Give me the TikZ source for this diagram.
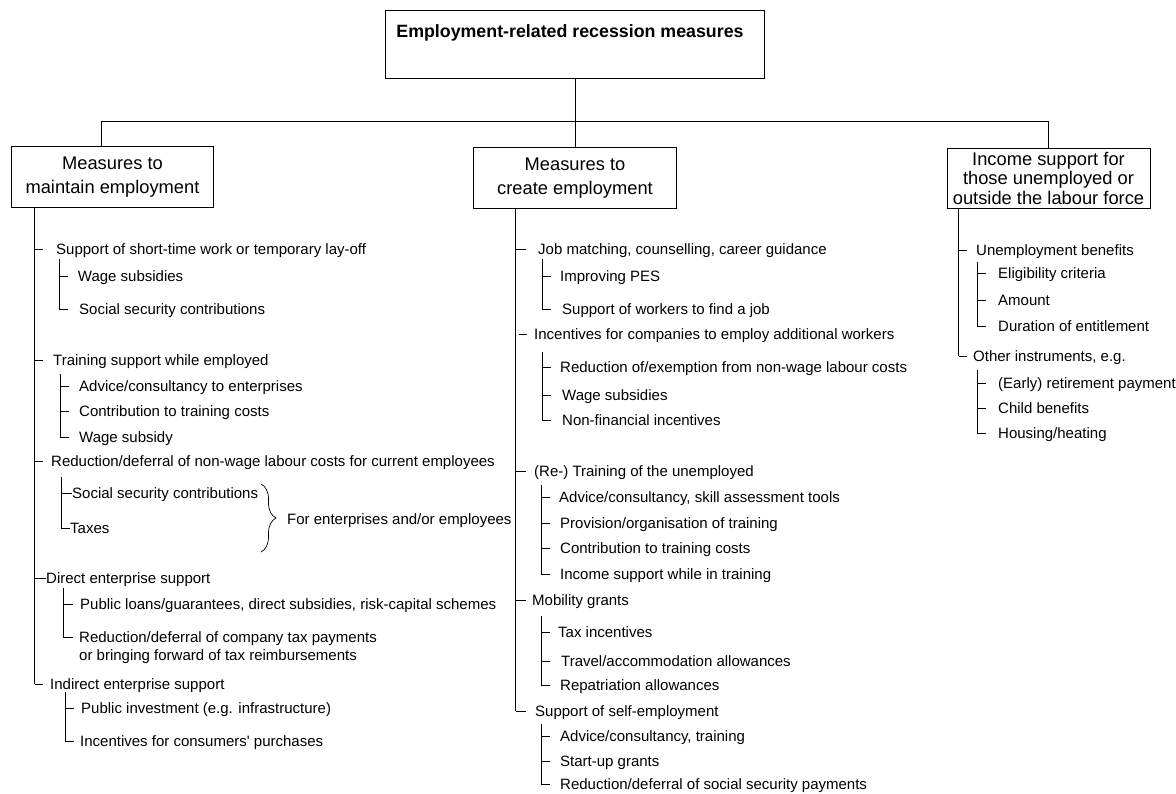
\documentclass[tikz,border=0pt]{standalone}
\usepackage{fontspec}
\setmainfont{Liberation Sans}
\usetikzlibrary{decorations.pathreplacing,calc}
\begin{document}
\begin{tikzpicture}[x=1pt,y=-1pt,
  ln/.style={line width=0.8pt, draw=black},
  box/.style={draw=black, line width=0.8pt, inner sep=0pt, align=center},
  bigtxt/.style={font=\fontsize{18.3}{24}\selectfont},
  itm/.style={anchor=west, inner sep=0pt, text height=10.5pt, text depth=0pt, font=\fontsize{15}{18}\selectfont},
]
\useasboundingbox (0,0) rectangle (1176,793);

% ---------- top ----------
\node[box, minimum width=379pt, minimum height=67.6pt] (top) at (575,44.5) {};
\node[font=\bfseries\fontsize{17.8}{20}\selectfont, inner sep=0pt] (toptxt) at (570,33) {Employment-related recession measures};

\node[box, bigtxt, minimum width=202pt, minimum height=61pt] (b1) at (112.5,177.2) {Measures to\\maintain employment};
\node[box, bigtxt, minimum width=203pt, minimum height=60.3pt] (b2) at (575,177.9) {Measures to\\create employment};
\node[box, font=\fontsize{18.3}{19.5}\selectfont, minimum width=203pt, minimum height=60pt] (b3) at (1048.5,178) {Income support for\\those unemployed or\\outside the labour force};

\coordinate (hl) at (101.4,121.7);
\draw[ln] (top.south) -- (b2.north);
\draw[ln] (hl |- b1.north) -- (hl) -| (b3.north);

% ---------- left column ----------
\node[itm] (l1) at (56,249) {Support of short-time work or temporary lay-off};
\node[itm] (l11) at (77.7,276) {Wage subsidies};
\node[itm] (l12) at (79,309) {Social security contributions};
\node[itm] (l2) at (53,360) {Training support while employed};
\node[itm] (l21) at (79,386) {Advice/consultancy to enterprises};
\node[itm] (l22) at (79,411) {Contribution to training costs};
\node[itm] (l23) at (79,437) {Wage subsidy};
\node[itm] (l3) at (51,461) {Reduction/deferral of non-wage labour costs for current employees};
\node[itm] (l31) at (72,493) {Social security contributions};
\node[itm] (l32) at (70,528) {Taxes};
\node[itm] (l3n) at (287,519) {For enterprises and/or employees};
\node[itm] (l4) at (46,578) {Direct enterprise support};
\node[itm] (l41) at (80,604) {Public loans/guarantees, direct subsidies, risk-capital schemes};
\node[itm] (l42) at (79,637) {Reduction/deferral of company tax payments};
\node[itm] (l42b) at (79,655) {or bringing forward of tax reimbursements};
\node[itm] (l5) at (50,684) {Indirect enterprise support};
\node[itm] (l51) at (81,708) {Public investment (e.g. infrastructure)};
\node[itm] (l52) at (80,741) {Incentives for consumers\textquotesingle\ purchases};

\coordinate (L) at (34.7,0);
\draw[ln] (L |- b1.south) -- (L |- l5);
\foreach \n in {l1,l2,l3,l5} \draw[ln] (L |- \n) -- ++(8.5,0);
\draw[ln] (L |- l4) -- (l4.west);

\coordinate (s1) at (59.3,259);
\draw[ln] (s1) -- (s1 |- l12);
\foreach \n in {l11,l12} \draw[ln] (s1 |- \n) -- ++(9,0);
\coordinate (s2) at (60,374);
\draw[ln] (s2) -- (s2 |- l23);
\foreach \n in {l21,l22,l23} \draw[ln] (s2 |- \n) -- ++(8.5,0);
\coordinate (s3) at (61,477);
\draw[ln] (s3) -- (s3 |- l32);
\foreach \n in {l31,l32} \draw[ln] (s3 |- \n) -- (\n.west);
\coordinate (s4) at (63,588);
\draw[ln] (s4) -- (s4 |- l42);
\foreach \n in {l41,l42} \draw[ln] (s4 |- \n) -- ++(10,0);
\coordinate (s5) at (65,692);
\draw[ln] (s5) -- (s5 |- l52);
\foreach \n in {l51,l52} \draw[ln] (s5 |- \n) -- ++(9,0);

\coordinate (brt) at (261,484);
\coordinate (brb) at (261,552);
\draw[ln, line width=0.7pt, decorate, decoration={brace, amplitude=15pt}] (brt) -- (brb);

% ---------- middle column ----------
\node[itm] (m1) at (538,249) {Job matching, counselling, career guidance};
\node[itm] (m11) at (560,276) {Improving PES};
\node[itm] (m12) at (562,309) {Support of workers to find a job};
\node[itm] (m2) at (534,334) {Incentives for companies to employ additional workers};
\node[itm] (m21) at (560,367) {Reduction of/exemption from non-wage labour costs};
\node[itm] (m22) at (562,395) {Wage subsidies};
\node[itm] (m23) at (562,420) {Non-financial incentives};
\node[itm] (m3) at (534,471) {(Re-) Training of the unemployed};
\node[itm] (m31) at (559,497) {Advice/consultancy, skill assessment tools};
\node[itm] (m32) at (560,523) {Provision/organisation of training};
\node[itm] (m33) at (560,548) {Contribution to training costs};
\node[itm] (m34) at (560,574) {Income support while in training};
\node[itm] (m4) at (532,600) {Mobility grants};
\node[itm] (m41) at (558,632) {Tax incentives};
\node[itm] (m42) at (561,661) {Travel/accommodation allowances};
\node[itm] (m43) at (560,685.5) {Repatriation allowances};
\node[itm] (m5) at (535,711) {Support of self-employment};
\node[itm] (m51) at (560,736) {Advice/consultancy, training};
\node[itm] (m52) at (560,761) {Start-up grants};
\node[itm] (m53) at (560,784.5) {Reduction/deferral of social security payments};

\coordinate (M) at (515.5,0);
\draw[ln] (M |- b2.south) -- (M |- m5);
\foreach \n in {m1,m3,m4,m5} \draw[ln] (M |- \n) -- ++(10,0);
\draw[ln] ($(M |- m2)+(3,0)$) -- ++(8.5,0);

\coordinate (ms1) at (542,259);
\draw[ln] (ms1) -- (ms1 |- m12);
\foreach \n in {m11,m12} \draw[ln] (ms1 |- \n) -- ++(8.5,0);
\coordinate (ms2) at (542,352);
\draw[ln] (ms2) -- (ms2 |- m23);
\foreach \n in {m21,m22,m23} \draw[ln] (ms2 |- \n) -- ++(8.5,0);
\coordinate (ms3) at (541,485);
\draw[ln] (ms3) -- (ms3 |- m34);
\foreach \n in {m31,m32,m33,m34} \draw[ln] (ms3 |- \n) -- ++(9,0);
\coordinate (ms4) at (541,616);
\draw[ln] (ms4) -- (ms4 |- m43);
\foreach \n in {m41,m42,m43} \draw[ln] (ms4 |- \n) -- ++(9,0);
\coordinate (ms5) at (541,724);
\draw[ln] (ms5) -- (ms5 |- m53);
\foreach \n in {m51,m52,m53} \draw[ln] (ms5 |- \n) -- ++(9,0);

% ---------- right column ----------
\node[itm] (r1) at (976,250) {Unemployment benefits};
\node[itm] (r11) at (998,273) {Eligibility criteria};
\node[itm] (r12) at (998,300) {Amount};
\node[itm] (r13) at (998,326) {Duration of entitlement};
\node[itm] (r2) at (973,356) {Other instruments, e.g.};
\node[itm] (r21) at (998,383) {(Early) retirement payment};
\node[itm] (r22) at (998,408) {Child benefits};
\node[itm] (r23) at (998,433) {Housing/heating};

\coordinate (R) at (958.5,0);
\draw[ln] (R |- b3.south) -- (R |- r2);
\foreach \n in {r1,r2} \draw[ln] (R |- \n) -- ++(8.5,0);
\coordinate (rs1) at (977,262);
\draw[ln] (rs1) -- (rs1 |- r13);
\foreach \n in {r11,r12,r13} \draw[ln] (rs1 |- \n) -- ++(8.5,0);
\coordinate (rs2) at (977,370);
\draw[ln] (rs2) -- (rs2 |- r23);
\foreach \n in {r21,r22,r23} \draw[ln] (rs2 |- \n) -- ++(8.5,0);
\end{tikzpicture}
\end{document}
